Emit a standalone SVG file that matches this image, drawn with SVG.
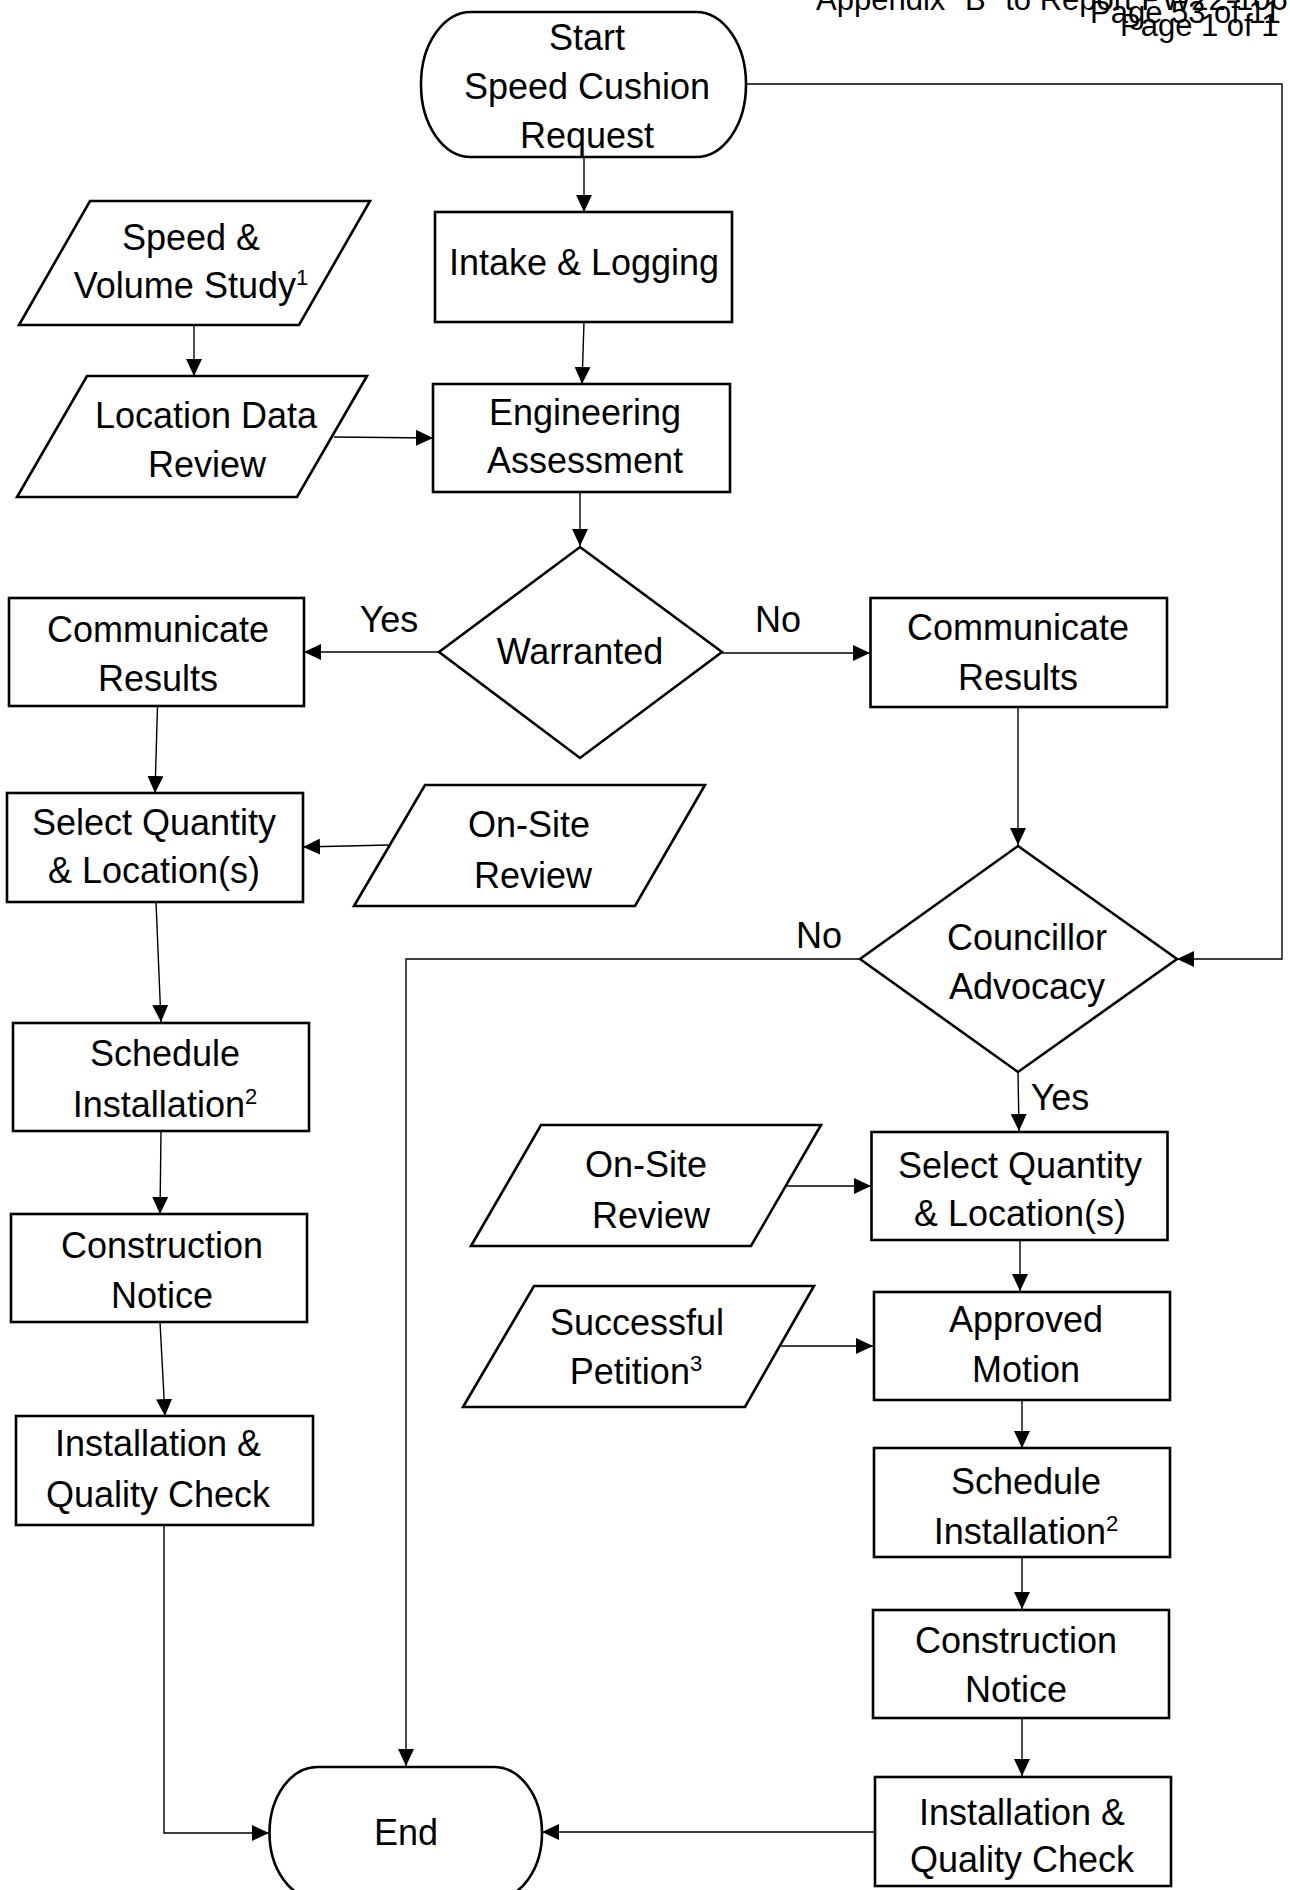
<svg xmlns="http://www.w3.org/2000/svg" width="1290" height="1890" viewBox="0 0 1290 1890">
<style>
.s{fill:#fff;stroke:#000;stroke-width:2.6}
.c{fill:none;stroke:#000;stroke-width:1.4}
text{font-family:"Liberation Sans",Arial,sans-serif;font-size:36px;fill:#000;text-anchor:middle}
.h{font-size:31px;text-anchor:start}
.sup{font-size:22px}
</style>
<defs>
<marker id="a" markerUnits="userSpaceOnUse" markerWidth="18" markerHeight="16" refX="17" refY="8" orient="auto">
<path d="M0,0 L17,8 L0,16 Z" fill="#000"/>
</marker>
</defs>
<rect width="1290" height="1890" fill="#fff"/>
<g id="header">
<text class="h" x="816" y="10">Appendix "B" to Report PW22-106</text>
<text class="h" x="1090" y="23">Page 53 of 11</text>
<text class="h" x="1120" y="36">Page 1 of 1</text>
</g>
<g id="connectors">
<path class="c" d="M584,157 L584,212" marker-end="url(#a)"/>
<path class="c" d="M584,322 L582,384" marker-end="url(#a)"/>
<path class="c" d="M194,325 L194,376" marker-end="url(#a)"/>
<path class="c" d="M334,437 L433,438" marker-end="url(#a)"/>
<path class="c" d="M580,492 L580,546" marker-end="url(#a)"/>
<path class="c" d="M439,652 L304,652" marker-end="url(#a)"/>
<path class="c" d="M722,653 L870,653" marker-end="url(#a)"/>
<path class="c" d="M157.5,706 L155,793" marker-end="url(#a)"/>
<path class="c" d="M389,845 L303,847" marker-end="url(#a)"/>
<path class="c" d="M156,902 L161,1022" marker-end="url(#a)"/>
<path class="c" d="M161,1131 L160,1214" marker-end="url(#a)"/>
<path class="c" d="M160,1322 L165,1416" marker-end="url(#a)"/>
<path class="c" d="M164,1525 L164,1833 L269,1833" marker-end="url(#a)"/>
<path class="c" d="M1018,707 L1018,845" marker-end="url(#a)"/>
<path class="c" d="M746,84 L1282,84 L1282,959 L1177,959" marker-end="url(#a)"/>
<path class="c" d="M860,959 L406,959 L406,1766" marker-end="url(#a)"/>
<path class="c" d="M1018,1072 L1019,1131" marker-end="url(#a)"/>
<path class="c" d="M787,1186 L871,1186" marker-end="url(#a)"/>
<path class="c" d="M1020,1240 L1020,1291" marker-end="url(#a)"/>
<path class="c" d="M781,1346 L873,1346" marker-end="url(#a)"/>
<path class="c" d="M1022,1401 L1022,1448" marker-end="url(#a)"/>
<path class="c" d="M1022,1557 L1022,1609" marker-end="url(#a)"/>
<path class="c" d="M1022,1718 L1022,1776" marker-end="url(#a)"/>
<path class="c" d="M875,1832 L542,1832" marker-end="url(#a)"/>
<text x="389" y="632">Yes</text>
<text x="778" y="632">No</text>
<text x="819" y="948">No</text>
<text x="1060" y="1110">Yes</text>
</g>
<g id="start">
<rect class="s" x="421" y="12" width="325" height="145" rx="50" ry="72"/>
<text x="587" y="50">Start</text>
<text x="587" y="99">Speed Cushion</text>
<text x="587" y="148">Request</text>
</g>
<g id="intake">
<rect class="s" x="435" y="212" width="297" height="110"/>
<text x="584" y="275">Intake &amp; Logging</text>
</g>
<g id="speed-volume">
<polygon class="s" points="90,201 370,201 299,325 19,325"/>
<text x="191" y="250">Speed &amp;</text>
<text x="191" y="298">Volume Study<tspan class="sup" dy="-13">1</tspan></text>
</g>
<g id="location-data">
<polygon class="s" points="87,376 367,376 297,497 17,497"/>
<text x="206" y="428">Location Data</text>
<text x="207" y="477">Review</text>
</g>
<g id="engineering">
<rect class="s" x="433" y="384" width="297" height="108"/>
<text x="585" y="425">Engineering</text>
<text x="585" y="473">Assessment</text>
</g>
<g id="warranted">
<polygon class="s" points="580,547 722,652 580,758 439,652"/>
<text x="580" y="664">Warranted</text>
</g>
<g id="communicate-yes">
<rect class="s" x="9" y="598" width="295" height="108"/>
<text x="158" y="642">Communicate</text>
<text x="158" y="691">Results</text>
</g>
<g id="communicate-no">
<rect class="s" x="870.5" y="598" width="296.5" height="109"/>
<text x="1018" y="640">Communicate</text>
<text x="1018" y="690">Results</text>
</g>
<g id="select-left">
<rect class="s" x="7" y="793" width="296" height="109"/>
<text x="154" y="835">Select Quantity</text>
<text x="154" y="883">&amp; Location(s)</text>
</g>
<g id="onsite-left">
<polygon class="s" points="425,785 705,785 635,906 354,906"/>
<text x="529" y="837">On-Site</text>
<text x="533" y="888">Review</text>
</g>
<g id="councillor">
<polygon class="s" points="1018,846 1177,959 1018,1072 860,959"/>
<text x="1027" y="950">Councillor</text>
<text x="1027" y="999">Advocacy</text>
</g>
<g id="schedule-left">
<rect class="s" x="13" y="1023" width="296" height="108"/>
<text x="165" y="1066">Schedule</text>
<text x="165" y="1117">Installation<tspan class="sup" dy="-13">2</tspan></text>
</g>
<g id="construction-left">
<rect class="s" x="11" y="1214" width="296" height="108"/>
<text x="162" y="1258">Construction</text>
<text x="162" y="1308">Notice</text>
</g>
<g id="install-left">
<rect class="s" x="16" y="1416" width="297" height="109"/>
<text x="158" y="1456">Installation &amp;</text>
<text x="158" y="1507">Quality Check</text>
</g>
<g id="select-right">
<rect class="s" x="871.5" y="1132" width="296" height="108"/>
<text x="1020" y="1178">Select Quantity</text>
<text x="1020" y="1226">&amp; Location(s)</text>
</g>
<g id="onsite-right">
<polygon class="s" points="541,1125 821,1125 751,1246 471,1246"/>
<text x="646" y="1177">On-Site</text>
<text x="651" y="1228">Review</text>
</g>
<g id="petition">
<polygon class="s" points="534,1286 814,1286 745,1407 463,1407"/>
<text x="637" y="1335">Successful</text>
<text x="636" y="1384">Petition<tspan class="sup" dy="-13">3</tspan></text>
</g>
<g id="approved">
<rect class="s" x="874" y="1292" width="296" height="108"/>
<text x="1026" y="1332">Approved</text>
<text x="1026" y="1382">Motion</text>
</g>
<g id="schedule-right">
<rect class="s" x="874" y="1448" width="296" height="109"/>
<text x="1026" y="1494">Schedule</text>
<text x="1026" y="1544">Installation<tspan class="sup" dy="-13">2</tspan></text>
</g>
<g id="construction-right">
<rect class="s" x="873" y="1610" width="296" height="108"/>
<text x="1016" y="1653">Construction</text>
<text x="1016" y="1702">Notice</text>
</g>
<g id="install-right">
<rect class="s" x="875" y="1777" width="296" height="109"/>
<text x="1022" y="1825">Installation &amp;</text>
<text x="1022" y="1872">Quality Check</text>
</g>
<g id="end">
<rect class="s" x="269.5" y="1767" width="272.5" height="132" rx="48" ry="66"/>
<text x="406" y="1845">End</text>
</g>
</svg>
